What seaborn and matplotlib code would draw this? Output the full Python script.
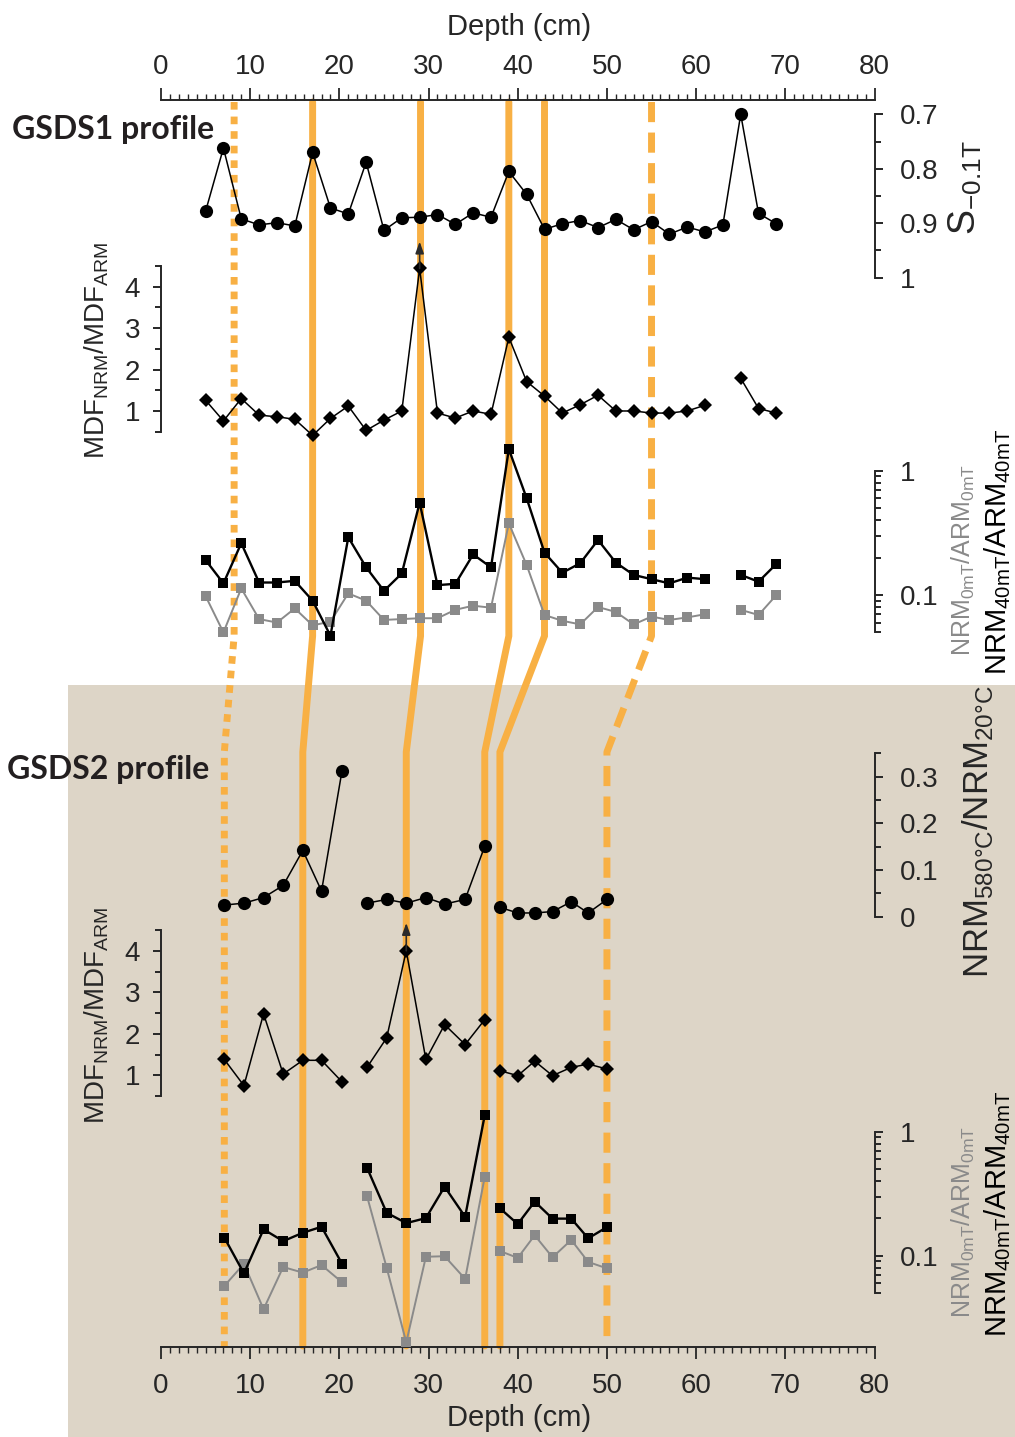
import numpy as np
import pandas as pd
import matplotlib
matplotlib.use("Agg")
import matplotlib.pyplot as plt
import seaborn as sns
from matplotlib.ticker import FixedLocator, FixedFormatter, NullFormatter
from matplotlib.patches import Rectangle

# ---------------- data ----------------
# GSDS1 profile
depth1_s = [5, 7, 9, 11, 13, 15, 17, 19, 21, 23, 25, 27, 29, 31, 33, 35, 37, 39, 41, 43,
            45, 47, 49, 51, 53, 55, 57, 59, 61, 63, 65, 67, 69]
s_ratio1 = [0.878, 0.762, 0.892, 0.903, 0.899, 0.905, 0.770, 0.872, 0.883, 0.788, 0.913,
            0.890, 0.889, 0.884, 0.902, 0.881, 0.889, 0.805, 0.847, 0.911, 0.901, 0.895,
            0.908, 0.893, 0.912, 0.897, 0.920, 0.907, 0.916, 0.903, 0.700, 0.882, 0.901]

depth1 = [5, 7, 9, 11, 13, 15, 17, 19, 21, 23, 25, 27, 29, 31, 33, 35, 37, 39, 41, 43,
          45, 47, 49, 51, 53, 55, 57, 59, 61, 65, 67, 69]
seg1 = [0] * 29 + [1] * 3
mdf1 = [1.26, 0.76, 1.30, 0.90, 0.86, 0.80, 0.41, 0.82, 1.12, 0.53, 0.78, 1.00, 4.44, 0.95,
        0.83, 1.00, 0.92, 2.78, 1.71, 1.36, 0.95, 1.15, 1.38, 1.00, 1.00, 0.95, 0.95, 1.00,
        1.14, 1.79, 1.06, 0.95]
nrm40_1 = [0.191, 0.124, 0.261, 0.126, 0.126, 0.130, 0.090, 0.047, 0.291, 0.167, 0.108,
           0.149, 0.553, 0.120, 0.123, 0.212, 0.167, 1.49, 0.600, 0.219, 0.151, 0.180,
           0.277, 0.182, 0.145, 0.134, 0.124, 0.138, 0.134, 0.145, 0.128, 0.178]
nrm0_1 = [0.098, 0.050, 0.113, 0.064, 0.060, 0.078, 0.057, 0.061, 0.103, 0.090, 0.063,
          0.064, 0.065, 0.065, 0.076, 0.082, 0.079, 0.377, 0.174, 0.069, 0.062, 0.058,
          0.080, 0.073, 0.058, 0.067, 0.063, 0.066, 0.070, 0.076, 0.069, 0.100]

# GSDS2 profile
depth2 = [7.1, 9.3, 11.5, 13.7, 15.9, 18.0, 20.3, 23.1, 25.3, 27.5, 29.7, 31.8, 34.1, 36.3,
          38.0, 40.0, 41.9, 43.9, 46.0, 47.9, 50.0]
seg2 = [0, 0, 0, 0, 0, 0, 0, 1, 1, 1, 1, 1, 1, 1, 2, 2, 2, 2, 2, 2, 2]
nrm580 = [0.025, 0.029, 0.041, 0.067, 0.142, 0.055, 0.313, 0.029, 0.037, 0.029, 0.041,
          0.027, 0.037, 0.151, 0.020, 0.008, 0.008, 0.011, 0.032, 0.008, 0.037]
mdf2 = [1.38, 0.75, 2.48, 1.03, 1.36, 1.36, 0.84, 1.19, 1.90, 4.00, 1.38, 2.22, 1.74, 2.34,
        1.11, 0.99, 1.34, 0.99, 1.19, 1.27, 1.15]
nrm40_2 = [0.140, 0.072, 0.163, 0.131, 0.153, 0.171, 0.086, 0.512, 0.222, 0.183, 0.201,
           0.360, 0.206, 1.36, 0.241, 0.180, 0.273, 0.199, 0.199, 0.138, 0.170]
nrm0_2 = [0.057, 0.086, 0.037, 0.081, 0.073, 0.084, 0.061, 0.302, 0.080, 0.020, 0.098,
          0.099, 0.065, 0.433, 0.109, 0.096, 0.146, 0.097, 0.134, 0.089, 0.079]

# correlation (tie) lines: depth in GSDS1 -> depth in GSDS2
tie_top = [8.2, 17.0, 29.1, 39.0, 43.0, 55.0]
tie_bot = [7.1, 15.9, 27.5, 36.3, 38.0, 50.0]
tie_kind = ["dotted", "solid", "solid", "solid", "solid", "dashed"]

# arrows marking off-scale MDF values (tip value)
arrow_tip1 = 5.09
arrow_tip2 = 4.67

depth_ticks = [0, 10, 20, 30, 40, 50, 60, 70, 80]

# ---------------- style ----------------
sns.set_style("ticks")
plt.rcParams["font.family"] = ["Liberation Sans", "DejaVu Sans"]
plt.rcParams["mathtext.fontset"] = "custom"
plt.rcParams["mathtext.rm"] = "Liberation Sans"
plt.rcParams["mathtext.it"] = "Liberation Sans"
plt.rcParams["mathtext.bf"] = "Liberation Sans:bold"

ORANGE = "#F8B044"
GRAY = "#8A8A8A"
SHADE = "#DDD5C7"

W, H = 1015, 1437
fig = plt.figure(figsize=(W / 100, H / 100), dpi=100)
X0, X1 = 161, 874.5


def fx(px):
    return px / W


def fy(py):
    return 1 - py / H


fig.add_artist(Rectangle((fx(68), 0), 1 - fx(68), fy(685), transform=fig.transFigure,
                         facecolor=SHADE, edgecolor="none", zorder=-10))


def add_panel(ytop, ybot):
    ax = fig.add_axes([fx(X0), fy(ybot), (X1 - X0) / W, (ybot - ytop) / H])
    ax.set_facecolor("none")
    ax.set_zorder(3)
    return ax


def finish(ax, side, ylim, major, labels, minor, log=False):
    ax.set_xlim(0, 80)
    if log:
        ax.set_yscale("log")
    ax.set_ylim(*ylim)
    ax.set_xlabel("")
    ax.set_ylabel("")
    for s in ax.spines.values():
        s.set_visible(False)
    ax.spines[side].set_visible(True)
    ax.spines[side].set_linewidth(1.4)
    ax.tick_params(axis="x", which="both", bottom=False, top=False,
                   labelbottom=False, labeltop=False)
    ax.yaxis.set_major_locator(FixedLocator(major))
    ax.yaxis.set_major_formatter(FixedFormatter(labels))
    ax.yaxis.set_minor_locator(FixedLocator(minor))
    ax.yaxis.set_minor_formatter(NullFormatter())
    if side == "right":
        ax.tick_params(axis="y", which="both", left=False, labelleft=False,
                       right=True, labelright=True, direction="out")
        pad = 12
    else:
        ax.tick_params(axis="y", which="both", left=True, labelleft=True,
                       right=False, labelright=False, direction="out")
        pad = 9
    ax.tick_params(axis="y", which="major", length=6, width=1.4, pad=pad, labelsize=20)
    ax.tick_params(axis="y", which="minor", length=4.5, width=1.4)


line_kw = dict(estimator=None, clip_on=False, legend=False)

# --- tie lines overlay ---
ax_tie = fig.add_axes([fx(X0), 0, (X1 - X0) / W, 1])
ax_tie.set_zorder(1)
ax_tie.set_facecolor("none")
ax_tie.set_xlim(0, 80)
ax_tie.set_ylim(H, 0)
ax_tie.axis("off")
Y_TOP, Y_B1, Y_B2, Y_BOT = 102, 636, 752, 1346
styles = {"dotted": (0, (1.1, 1.0)), "solid": "-", "dashed": (0, (2.9, 1.5))}
for t, b, k in zip(tie_top, tie_bot, tie_kind):
    ax_tie.plot([t, t, b, b], [Y_TOP, Y_B1, Y_B2, Y_BOT], color=ORANGE, lw=5,
                ls=styles[k], solid_joinstyle="miter", dash_capstyle="butt")

# --- panel A: S-ratio ---
axA = add_panel(114.3, 277.7)
dfA = pd.DataFrame({"depth": depth1_s, "val": s_ratio1})
sns.lineplot(data=dfA, x="depth", y="val", ax=axA, color="black", lw=1.1, marker="o",
             markersize=9.5, markeredgecolor="black", markeredgewidth=0, **line_kw)
finish(axA, "right", (1.0, 0.7), [0.7, 0.8, 0.9, 1.0], ["0.7", "0.8", "0.9", "1"],
       [0.75, 0.85, 0.95])

# --- panel B: MDF ratio GSDS1 ---
axB = add_panel(266, 431.7)
dfB = pd.DataFrame({"depth": depth1, "val": mdf1, "seg": seg1})
sns.lineplot(data=dfB, x="depth", y="val", units="seg", ax=axB, color="black", lw=1.1,
             marker="D", markersize=7.5, markeredgecolor="black", markeredgewidth=0, **line_kw)
finish(axB, "left", (0.5, 4.5), [1, 2, 3, 4], ["1", "2", "3", "4"], [0.5, 1.5, 2.5, 3.5, 4.5])
i1 = int(np.argmax(mdf1))
axB.annotate("", xy=(depth1[i1], arrow_tip1), xytext=(depth1[i1], mdf1[i1]),
             arrowprops=dict(arrowstyle="-|>,head_length=0.7,head_width=0.25",
                             color="#2a2a2a", lw=1.2, shrinkA=0, shrinkB=0),
             annotation_clip=False)

# --- panel C: NRM/ARM GSDS1 ---
axC = add_panel(470.7, 632.4)
dfC = pd.DataFrame({"depth": depth1, "g": nrm0_1, "k": nrm40_1, "seg": seg1})
sns.lineplot(data=dfC, x="depth", y="g", units="seg", ax=axC, color=GRAY, lw=1.4,
             marker="s", markersize=7.5, markeredgecolor=GRAY, markeredgewidth=0, **line_kw)
sns.lineplot(data=dfC, x="depth", y="k", units="seg", ax=axC, color="black", lw=1.7,
             marker="s", markersize=7.5, markeredgecolor="black", markeredgewidth=0, **line_kw)
log_minor = [0.05, 0.06, 0.07, 0.08, 0.09, 0.2, 0.3, 0.4, 0.5, 0.6, 0.7, 0.8, 0.9]
finish(axC, "right", (0.05, 1), [0.1, 1], ["0.1", "1"], log_minor, log=True)

# --- panel D: NRM580/NRM20 GSDS2 ---
axD = add_panel(753.3, 916.7)
dfD = pd.DataFrame({"depth": depth2, "val": nrm580, "seg": seg2})
sns.lineplot(data=dfD, x="depth", y="val", units="seg", ax=axD, color="black", lw=1.1,
             marker="o", markersize=9.5, markeredgecolor="black", markeredgewidth=0, **line_kw)
finish(axD, "right", (0, 0.35), [0, 0.1, 0.2, 0.3], ["0", "0.1", "0.2", "0.3"],
       [0.05, 0.15, 0.25, 0.35])

# --- panel E: MDF ratio GSDS2 ---
axE = add_panel(930, 1096)
dfE = pd.DataFrame({"depth": depth2, "val": mdf2, "seg": seg2})
sns.lineplot(data=dfE, x="depth", y="val", units="seg", ax=axE, color="black", lw=1.1,
             marker="D", markersize=7.5, markeredgecolor="black", markeredgewidth=0, **line_kw)
finish(axE, "left", (0.5, 4.5), [1, 2, 3, 4], ["1", "2", "3", "4"], [0.5, 1.5, 2.5, 3.5, 4.5])
i2 = int(np.argmax(mdf2))
axE.annotate("", xy=(depth2[i2], arrow_tip2), xytext=(depth2[i2], mdf2[i2]),
             arrowprops=dict(arrowstyle="-|>,head_length=0.7,head_width=0.25",
                             color="#2a2a2a", lw=1.2, shrinkA=0, shrinkB=0),
             annotation_clip=False)

# --- panel F: NRM/ARM GSDS2 ---
axF = add_panel(1131.7, 1293)
dfF = pd.DataFrame({"depth": depth2, "g": nrm0_2, "k": nrm40_2, "seg": seg2})
sns.lineplot(data=dfF, x="depth", y="g", units="seg", ax=axF, color=GRAY, lw=1.4,
             marker="s", markersize=7.5, markeredgecolor=GRAY, markeredgewidth=0, **line_kw)
sns.lineplot(data=dfF, x="depth", y="k", units="seg", ax=axF, color="black", lw=1.7,
             marker="s", markersize=7.5, markeredgecolor="black", markeredgewidth=0, **line_kw)
finish(axF, "right", (0.05, 1), [0.1, 1], ["0.1", "1"], log_minor, log=True)


# --- depth axes ---
def depth_axis(ypix, where):
    ax = fig.add_axes([fx(X0), fy(ypix), (X1 - X0) / W, 1e-5])
    ax.set_facecolor("none")
    ax.set_zorder(2)
    ax.set_xlim(0, 80)
    for s in ax.spines.values():
        s.set_visible(False)
    ax.spines[where].set_visible(True)
    ax.spines[where].set_linewidth(1.4)
    ax.set_yticks([])
    ax.xaxis.set_major_locator(FixedLocator(depth_ticks))
    ax.xaxis.set_major_formatter(FixedFormatter([str(v) for v in depth_ticks]))
    ax.xaxis.set_minor_locator(FixedLocator(np.arange(0, 81, 1)))
    if where == "top":
        ax.tick_params(axis="x", which="both", top=True, labeltop=True, bottom=False,
                       labelbottom=False, direction="out")
        pad = 6
    else:
        ax.tick_params(axis="x", which="both", bottom=True, labelbottom=True, top=False,
                       labeltop=False, direction="out")
        pad = 10
    ax.tick_params(axis="x", which="major", length=8.5, width=1.3, pad=pad, labelsize=20)
    ax.tick_params(axis="x", which="minor", length=4.3, width=1.0)
    return ax


depth_axis(100, "top")
depth_axis(1347, "bottom")

# --- texts ---
fig.text(fx(519), fy(27), "Depth (cm)", ha="center", va="center", fontsize=21)
fig.text(fx(519), fy(1418), "Depth (cm)", ha="center", va="center", fontsize=21)

prof_kw = dict(ha="left", va="center", fontsize=23, fontweight="bold",
               family=["Lato", "Open Sans", "DejaVu Sans"], color="#231f20")
fig.text(fx(12), fy(129), "GSDS1 profile", **prof_kw)
fig.text(fx(7), fy(770), "GSDS2 profile", **prof_kw)

rot = dict(rotation=90, ha="center", va="center")
fig.text(fx(965), fy(188), r"S$_{\mathregular{-0.1T}}$", fontsize=27, **rot)
fig.text(fx(97), fy(350), r"MDF$_{\mathregular{NRM}}$/MDF$_{\mathregular{ARM}}$", fontsize=20, **rot)
fig.text(fx(97), fy(1015), r"MDF$_{\mathregular{NRM}}$/MDF$_{\mathregular{ARM}}$", fontsize=20, **rot)
fig.text(fx(963), fy(560), r"NRM$_{\mathregular{0mT}}$/ARM$_{\mathregular{0mT}}$",
         fontsize=18, color=GRAY, **rot)
fig.text(fx(998), fy(552), r"NRM$_{\mathregular{40mT}}$/ARM$_{\mathregular{40mT}}$",
         fontsize=21, color="black", **rot)
fig.text(fx(978), fy(832), r"NRM$_{\mathregular{580°C}}$/NRM$_{\mathregular{20°C}}$",
         fontsize=25, **rot)
fig.text(fx(963), fy(1222), r"NRM$_{\mathregular{0mT}}$/ARM$_{\mathregular{0mT}}$",
         fontsize=18, color=GRAY, **rot)
fig.text(fx(998), fy(1214), r"NRM$_{\mathregular{40mT}}$/ARM$_{\mathregular{40mT}}$",
         fontsize=21, color="black", **rot)

fig.savefig("out.png", dpi=100)
